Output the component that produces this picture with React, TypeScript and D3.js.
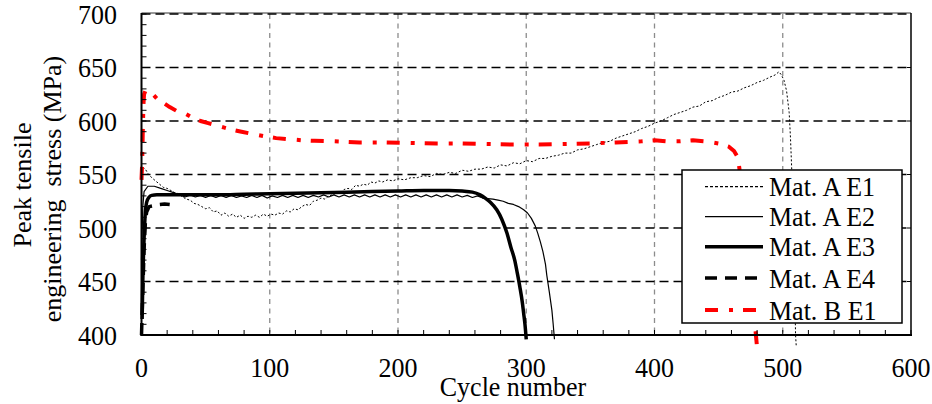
import React from 'react';
import * as d3 from 'd3';

// data (cycle, MPa)
const xTicks = [0, 100, 200, 300, 400, 500, 600];
const yTicks = [400, 450, 500, 550, 600, 650, 700];

const matA_E1: [number, number][] = [
  [0, 546], [1, 557], [3, 555], [5, 551], [8, 547], [11, 544], [14, 541], [17, 538], [20, 537], [23, 535],
  [26, 533], [29, 532], [32, 529], [35, 527], [38, 526], [41, 523], [44, 522], [47, 520], [50, 518], [53, 519],
  [56, 515], [59, 516], [62, 512], [65, 514], [68, 511], [71, 513], [74, 510], [77, 512], [80, 509], [83, 511],
  [86, 510], [89, 512], [92, 510], [95, 513], [98, 511], [101, 513], [104, 512], [107, 514], [110, 513], [113, 516],
  [116, 515], [119, 518], [122, 517], [125, 520], [128, 522], [131, 521], [134, 525], [137, 526], [140, 528], [143, 527],
  [146, 530], [149, 531], [152, 533], [155, 532], [158, 536], [161, 537], [164, 536], [167, 540], [170, 539], [173, 541],
  [176, 540], [179, 543], [182, 542], [185, 544], [188, 543], [192, 545], [196, 544], [200, 546], [205, 545], [210, 547],
  [215, 547], [220, 549], [225, 548], [230, 551], [235, 550], [240, 552], [245, 551], [250, 554], [255, 553], [260, 555],
  [265, 555], [270, 557], [275, 556], [280, 559], [285, 558], [290, 561], [295, 560], [300, 563], [305, 562], [310, 565],
  [315, 565], [320, 567], [325, 568], [330, 570], [335, 570], [340, 573], [345, 574], [350, 576], [355, 578], [360, 580],
  [365, 581], [370, 584], [375, 586], [380, 588], [385, 590], [390, 593], [395, 595], [400, 598], [405, 600], [410, 603],
  [415, 606], [420, 608], [425, 610], [430, 613], [435, 614], [440, 618], [445, 619], [450, 622], [455, 624], [460, 627],
  [465, 628], [470, 631], [475, 633], [480, 636], [485, 638], [490, 641], [494, 643], [497, 646], [499, 643], [501, 638],
  [503, 628], [505, 608], [506, 585], [507, 555], [508, 510], [509, 460], [510, 400], [510.5, 390],
];

const matA_E2: [number, number][] = [
  [0, 470], [1, 520], [2, 534], [5, 539], [10, 539], [15, 537], [20, 535], [25, 533],
  [30, 531], [34, 529], [38, 531], [42, 529], [46, 530.5], [50, 528.5], [54, 530.5], [58, 528.5], [62, 530.5], [66, 528.5],
  [70, 530.5], [74, 528.5], [78, 530], [82, 528.5], [86, 530.5], [90, 528.5], [94, 530.5], [98, 528], [102, 530], [106, 528.5],
  [110, 530.5], [114, 528.5], [118, 530.5], [122, 528.5], [126, 530.5], [130, 528.5], [134, 530.5], [138, 529], [142, 531], [146, 529],
  [150, 531], [154, 529], [158, 531], [162, 529], [166, 531], [170, 529], [174, 531], [178, 529], [182, 531], [186, 529],
  [190, 531], [194, 529], [198, 531], [202, 529], [206, 531], [210, 529], [214, 531], [218, 529], [222, 531], [226, 529],
  [230, 531], [234, 529], [238, 531], [242, 529], [246, 531], [250, 529], [254, 530.5], [258, 528.5], [262, 530],
  [266, 528], [270, 527.5], [274, 527], [278, 526], [282, 525], [286, 523], [290, 522], [294, 520], [298, 517], [301, 514],
  [304, 509], [307, 502], [309, 495], [311, 487], [313, 478], [315, 466], [316, 456], [318, 440], [320, 423], [321, 410], [322, 396],
];

const matA_E3: [number, number][] = [
  [0.5, 415], [1, 450], [2, 490], [3, 515], [4, 524], [6, 529], [8, 530.5], [12, 531], [20, 531], [40, 531],
  [60, 531], [80, 531.5], [100, 532], [120, 532.5], [140, 533], [160, 533.5], [180, 534], [200, 534.5], [220, 535], [240, 535],
  [250, 534.5], [258, 533.5], [264, 531], [268, 528], [272, 524], [277, 517], [281, 508], [285, 495], [288, 482], [291, 470],
  [293, 458], [295, 445], [297, 430], [298, 420], [299, 410], [300, 396],
];

const matA_E4: [number, number][] = [
  [0, 400], [1, 440], [2, 480], [3, 505], [4, 515], [6, 520], [10, 521], [14, 522], [18, 522.5], [22, 522],
];

const matB_E1: [number, number][] = [
  [0, 545], [0.5, 560], [1, 590], [1.5, 615], [2, 625], [3, 628], [5, 629], [8, 626], [12, 621], [17, 617],
  [22, 613], [28, 609], [34, 607], [40, 603], [46, 600], [52, 598], [58, 596], [64, 594], [70, 592], [78, 590],
  [86, 588], [95, 586], [105, 584], [115, 583], [125, 582], [135, 581.5], [150, 581], [170, 580], [190, 580], [210, 579.5],
  [230, 579], [250, 579], [270, 578.5], [290, 578], [310, 578], [330, 578.5], [350, 579], [370, 580], [390, 581], [400, 582],
  [410, 581], [420, 581], [430, 582], [440, 581], [450, 579], [458, 576], [462, 572], [465, 566], [468, 540], [472, 490],
  [476, 440], [480, 388],
];

const seriesNames = ['Mat. A E1', 'Mat. A E2', 'Mat. A E3', 'Mat. A E4', 'Mat. B E1'];

const W = 932;
const H = 404;
const left = 141.5, right = 911, top = 14, bottom = 335;
const FONT = '"Liberation Serif", "Times New Roman", serif';
const FS = 27.5;
const SX = 0.945; // text in the reference is slightly condensed

const styles = [
  { color: '#000', width: 1, dash: '2,2' },
  { color: '#000', width: 1.2, dash: null },
  { color: '#000', width: 3.5, dash: null },
  { color: '#000', width: 3.5, dash: '12,8' },
  { color: '#ff0000', width: 4, dash: '13,11,4,10' },
];

function Txt({ x, y, anchor, children }: { x: number; y: number; anchor?: string; children: React.ReactNode }) {
  return (
    <text transform={`translate(${x},${y}) scale(${SX},1)`} textAnchor={anchor || 'start'} fontSize={FS} fill="#000">
      {children}
    </text>
  );
}

export default function App() {
  const x = d3.scaleLinear().domain([0, 600]).range([left, right]);
  const y = d3.scaleLinear().domain([400, 700]).range([bottom, top]);

  const line = d3.line<[number, number]>().x(d => x(d[0])).y(d => y(d[1]));
  const smooth = d3.line<[number, number]>().x(d => x(d[0])).y(d => y(d[1])).curve(d3.curveMonotoneX);

  const all = [matA_E1, matA_E2, matA_E3, matA_E4, matB_E1];
  const gens = [line, line, smooth, line, line];

  const xMinor = d3.range(0, 601, 20);
  const yMinor = d3.range(400, 701, 10);

  // legend box
  const lg = { x: 682, y: 170, w: 220, h: 153 };
  const rowY = [186.7, 216.7, 246.7, 278, 310];

  return (
    <svg width={W} height={H} style={{ position: 'absolute', left: 0, top: 0, background: '#fff' }} fontFamily={FONT}>
      {/* vertical grid */}
      {xTicks.filter(t => t > 0 && t < 600).map(t => (
        <line key={'vx' + t} x1={x(t)} x2={x(t)} y1={top} y2={bottom} stroke="#8c8c8c" strokeWidth={1.3} strokeDasharray="5,4.5" />
      ))}
      {/* horizontal grid */}
      {yTicks.filter(t => t > 400).map(t => (
        <line key={'hy' + t} x1={left} x2={right} y1={y(t)} y2={y(t)} stroke="#000" strokeWidth={1.5} strokeDasharray="9,5" />
      ))}
      {/* frame */}
      <line x1={left} x2={right} y1={top - 1} y2={top - 1} stroke="#000" strokeWidth={0.8} />
      <line x1={right} x2={right} y1={top - 1} y2={bottom} stroke="#000" strokeWidth={1.5} />
      {yTicks.filter(t => t > 400 && t < 700).map(t => (
        <line key={'rt' + t} x1={right - 4} x2={right} y1={y(t)} y2={y(t)} stroke="#000" strokeWidth={1} />
      ))}

      {/* series */}
      {all.map((s, i) => (
        <path key={'s' + i} d={gens[i](s) || ''} fill="none" stroke={styles[i].color} strokeWidth={styles[i].width}
          strokeDasharray={styles[i].dash || undefined} strokeLinejoin="round" />
      ))}

      {/* axes */}
      <line x1={left} x2={left} y1={top - 1} y2={bottom + 1} stroke="#000" strokeWidth={2} />
      <line x1={left - 1} x2={right + 1} y1={bottom} y2={bottom} stroke="#000" strokeWidth={2} />
      {yMinor.map(t => (
        <line key={'ym' + t} x1={left} x2={left + 5} y1={y(t)} y2={y(t)} stroke="#000" strokeWidth={1} />
      ))}
      {xMinor.map(t => (
        <line key={'xm' + t} x1={x(t)} x2={x(t)} y1={bottom} y2={bottom - 5} stroke="#000" strokeWidth={1} />
      ))}

      {/* tick labels */}
      {yTicks.map(t => (
        <Txt key={'yl' + t} x={117} y={y(t) + 9.5} anchor="end">{t}</Txt>
      ))}
      {xTicks.map(t => (
        <Txt key={'xl' + t} x={x(t)} y={377} anchor="middle">{t}</Txt>
      ))}

      {/* axis titles */}
      <Txt x={513} y={396} anchor="middle">Cycle number</Txt>
      <text transform="translate(31,185) rotate(-90)" textAnchor="middle" fontSize={26} fill="#000">Peak tensile</text>
      <text transform="translate(61,189) rotate(-90)" textAnchor="middle" fontSize={26} fill="#000" style={{ whiteSpace: 'pre' }}>engineering  stress (MPa)</text>

      {/* legend */}
      <rect x={lg.x} y={lg.y} width={lg.w} height={lg.h} fill="#fff" stroke="#000" strokeWidth={1.5} />
      {seriesNames.map((n, i) => (
        <g key={'lg' + i}>
          <line x1={705} x2={763} y1={rowY[i]} y2={rowY[i]} stroke={styles[i].color}
            strokeWidth={i === 0 ? 1.2 : styles[i].width} strokeDasharray={i === 0 ? '3,2' : (styles[i].dash || undefined)} />
          <Txt x={769} y={rowY[i] + 9.5}>{n}</Txt>
        </g>
      ))}
    </svg>
  );
}
